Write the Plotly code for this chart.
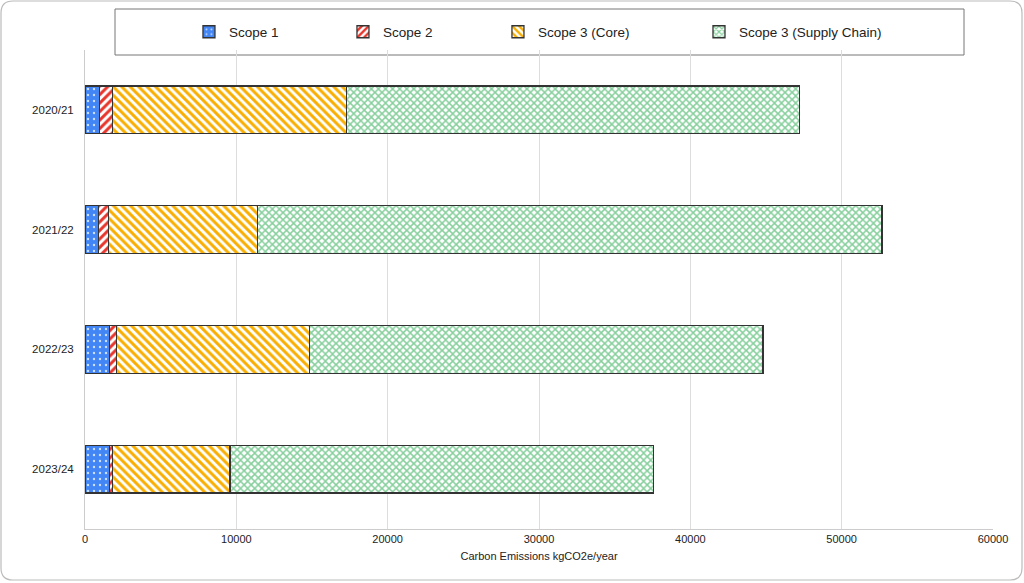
import plotly.graph_objects as go

years = ["2020/21", "2021/22", "2022/23", "2023/24"]
scope1 = [976, 910, 1636, 1636]
scope2 = [858, 660, 442, 198]
scope3_core = [15462, 9828, 12750, 7744]
scope3_supply = [29920, 41274, 29974, 27988]

series = [
    ("Scope 1", scope1, "#4285F4",
     dict(shape=".", fgcolor="#cfe0fb", bgcolor="#4285F4", size=6, solidity=0.12)),
    ("Scope 2", scope2, "#E8352B",
     dict(shape="/", fgcolor="#E8352B", bgcolor="#ffffff", size=6, solidity=0.5)),
    ("Scope 3 (Core)", scope3_core, "#F9AE00",
     dict(shape="\\", fgcolor="#F9AE00", bgcolor="#ffffff", size=6, solidity=0.5)),
    ("Scope 3 (Supply Chain)", scope3_supply, "#86CF9C",
     dict(shape="x", fgcolor="#86CF9C", bgcolor="#ffffff", size=5, solidity=0.5)),
]

# legend item left edges in paper units (plot area is 85..993 px wide)
legend_x = [0.1145, 0.2841, 0.4548, 0.6762]

fig = go.Figure()
for i, (name, vals, color, pat) in enumerate(series):
    lg = "legend" if i == 0 else "legend%d" % (i + 1)
    fig.add_trace(go.Bar(
        y=years, x=vals, name=name, orientation="h", legend=lg,
        marker=dict(color=color, pattern=dict(pat, fgopacity=1, fillmode="replace"),
                    line=dict(color="#333333", width=1.3)),
    ))

legend_common = dict(orientation="h", xanchor="left", yanchor="middle", y=1.0376,
                     bgcolor="rgba(0,0,0,0)", font=dict(size=13.5, color="#222222"))
layout_legends = {}
for i, lx in enumerate(legend_x):
    key = "legend" if i == 0 else "legend%d" % (i + 1)
    layout_legends[key] = dict(legend_common, x=lx)

pw, ph = 908.0, 479.0
rx, ry = 12 / pw, 12 / ph
x0, x1 = -84 / pw, 937 / pw
y0, y1 = -51 / ph, 528 / ph
card = (f"M{x0 + rx},{y1} L{x1 - rx},{y1} Q{x1},{y1} {x1},{y1 - ry} "
        f"L{x1},{y0 + ry} Q{x1},{y0} {x1 - rx},{y0} L{x0 + rx},{y0} "
        f"Q{x0},{y0} {x0},{y0 + ry} L{x0},{y1 - ry} Q{x0},{y1} {x0 + rx},{y1} Z")

fig.update_layout(
    width=1024, height=583,
    margin=dict(l=85, r=31, t=50, b=54),
    barmode="stack", bargap=0.6,
    showlegend=True,
    paper_bgcolor="white", plot_bgcolor="white",
    font=dict(family="Liberation Sans, Arial", size=11, color="#222222"),
    xaxis=dict(range=[0, 60000], dtick=10000, tickformat="d", showgrid=True,
               gridcolor="#dddddd", showline=True, linecolor="#cccccc", zeroline=False,
               title=dict(text="Carbon Emissions kgCO2e/year", font=dict(size=11), standoff=8),
               tickfont=dict(size=11)),
    yaxis=dict(autorange="reversed", showline=True, linecolor="#cccccc", showgrid=False,
               ticklabelstandoff=8, tickfont=dict(size=11.5)),
    shapes=[
        dict(type="rect", xref="paper", yref="paper", x0=30 / pw, x1=879 / pw,
             y0=474 / ph, y1=520 / ph, line=dict(color="#777777", width=1), layer="below"),
        dict(type="path", xref="paper", yref="paper", path=card,
             line=dict(color="#bbbbbb", width=1.2)),
    ],
    **layout_legends,
)

fig.write_html("out.html", config={"displayModeBar": False},
               post_script="document.body.style.margin='0';")
